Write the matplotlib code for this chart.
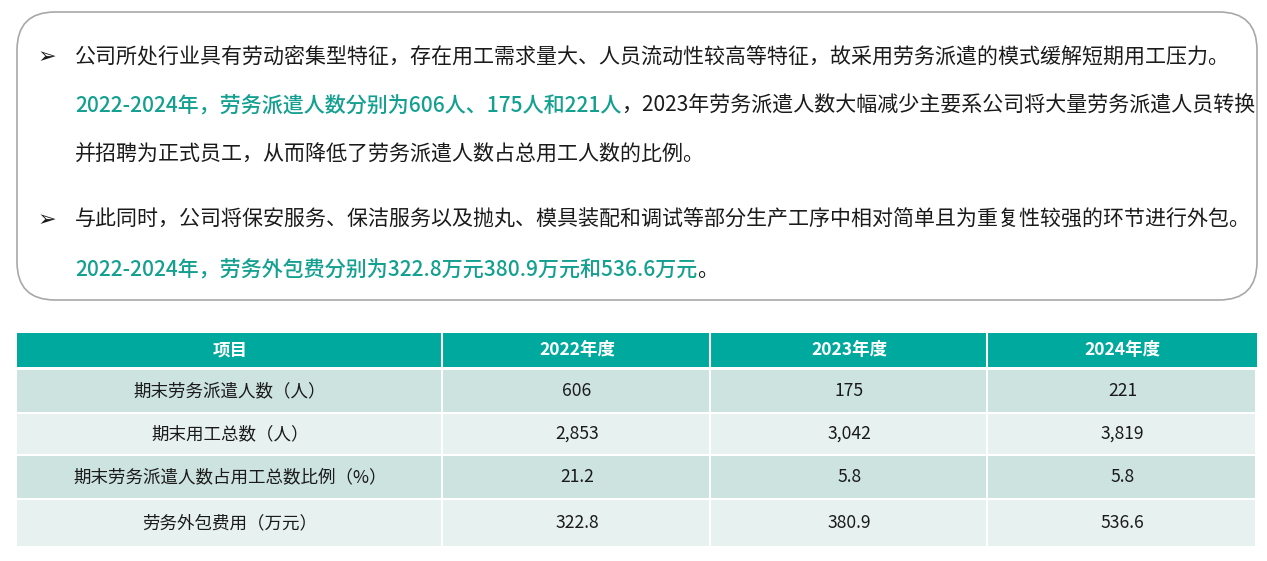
import matplotlib
matplotlib.use("Agg")
import matplotlib.pyplot as plt
from matplotlib.patches import FancyBboxPatch, Rectangle
from matplotlib import font_manager

names = sorted({f.name for f in font_manager.fontManager.ttflist if "CJK" in f.name})
cjk = [n for n in ["Noto Sans CJK SC", "Noto Sans CJK JP", "Noto Sans CJK TC"] if n in names]
plt.rcParams["font.family"] = cjk + ["DejaVu Sans"]

GREEN = "#14a090"
TEAL = "#00a99d"
ROW_A = "#cde3df"
ROW_B = "#e7f1ef"

# ---- data ----
columns = ["项目", "2022年度", "2023年度", "2024年度"]
items = ["期末劳务派遣人数（人）", "期末用工总数（人）",
         "期末劳务派遣人数占用工总数比例（%）", "劳务外包费用（万元）"]
v2022 = ["606", "2,853", "21.2", "322.8"]
v2023 = ["175", "3,042", "5.8", "380.9"]
v2024 = ["221", "3,819", "5.8", "536.6"]

# text lines: list of (text, colour) segments
lines = [
    [("公司所处行业具有劳动密集型特征，存在用工需求量大、人员流动性较高等特征，故采用劳务派遣的模式缓解短期用工压力。", "#1a1a1a")],
    [("2022-2024年，劳务派遣人数分别为606人、175人和221人", GREEN),
     ("，2023年劳务派遣人数大幅减少主要系公司将大量劳务派遣人员转换", "#1a1a1a")],
    [("并招聘为正式员工，从而降低了劳务派遣人数占总用工人数的比例。", "#1a1a1a")],
    [("与此同时，公司将保安服务、保洁服务以及抛丸、模具装配和调试等部分生产工序中相对简单且为重复性较强的环节进行外包。", "#1a1a1a")],
    [("2022-2024年，劳务外包费分别为322.8万元380.9万元和536.6万元", GREEN),
     ("。", "#1a1a1a")],
]
line_y = [57, 106, 155, 220, 270]
bullets = [0, 3]

W, H = 1267, 561
fig = plt.figure(figsize=(W / 100, H / 100), dpi=100)
ax = fig.add_axes([0, 0, 1, 1])
ax.set_xlim(0, W)
ax.set_ylim(H, 0)
ax.axis("off")

# rounded box
ax.add_patch(FancyBboxPatch((17, 12), 1240, 288, boxstyle="round,pad=0,rounding_size=38",
                            fc="white", ec="#a8a8a8", lw=1.2))

fig.canvas.draw()
renderer = fig.canvas.get_renderer()
inv = ax.transData.inverted()
for i, (segs, y) in enumerate(zip(lines, line_y)):
    if i in bullets:
        ax.text(47, y, "➢", fontsize=16, va="center", ha="center", color="#1a1a1a",
                family="DejaVu Sans")
    x = 75
    for txt, col in segs:
        bold = col == GREEN
        t = ax.text(x, y, txt, fontsize=15.1, va="center", ha="left", color=col,
                    fontweight="medium" if bold else "normal")
        bb = t.get_window_extent(renderer)
        x = inv.transform((bb.x1, bb.y0))[0]

# table
col_x = [17, 443, 711, 988, 1257]
gap = 2
ax.add_patch(Rectangle((17, 333), 1240, 34, fc=TEAL, ec="none"))
for j, name in enumerate(columns):
    if j > 0:
        ax.plot([col_x[j] - 1, col_x[j] - 1], [333, 367], color="white", lw=1.5)
    ax.text((col_x[j] + col_x[j + 1]) / 2, 350, name, ha="center", va="center",
            color="white", fontsize=12.6, fontweight="bold")

row_edges = [370, 414, 456, 500, 548]
for r, item in enumerate(items):
    y0, y1 = row_edges[r], row_edges[r + 1]
    fc = ROW_A if r % 2 == 0 else ROW_B
    cells = [item, v2022[r], v2023[r], v2024[r]]
    for j, val in enumerate(cells):
        ax.add_patch(Rectangle((col_x[j], y0), col_x[j + 1] - col_x[j] - gap, y1 - y0 - gap,
                               fc=fc, ec="none"))
        ax.text((col_x[j] + col_x[j + 1]) / 2, (y0 + y1) / 2 - 1, val, ha="center",
                va="center", color="#1a1a1a", fontsize=12.6)

fig.savefig("out.png", dpi=100, facecolor="white")
